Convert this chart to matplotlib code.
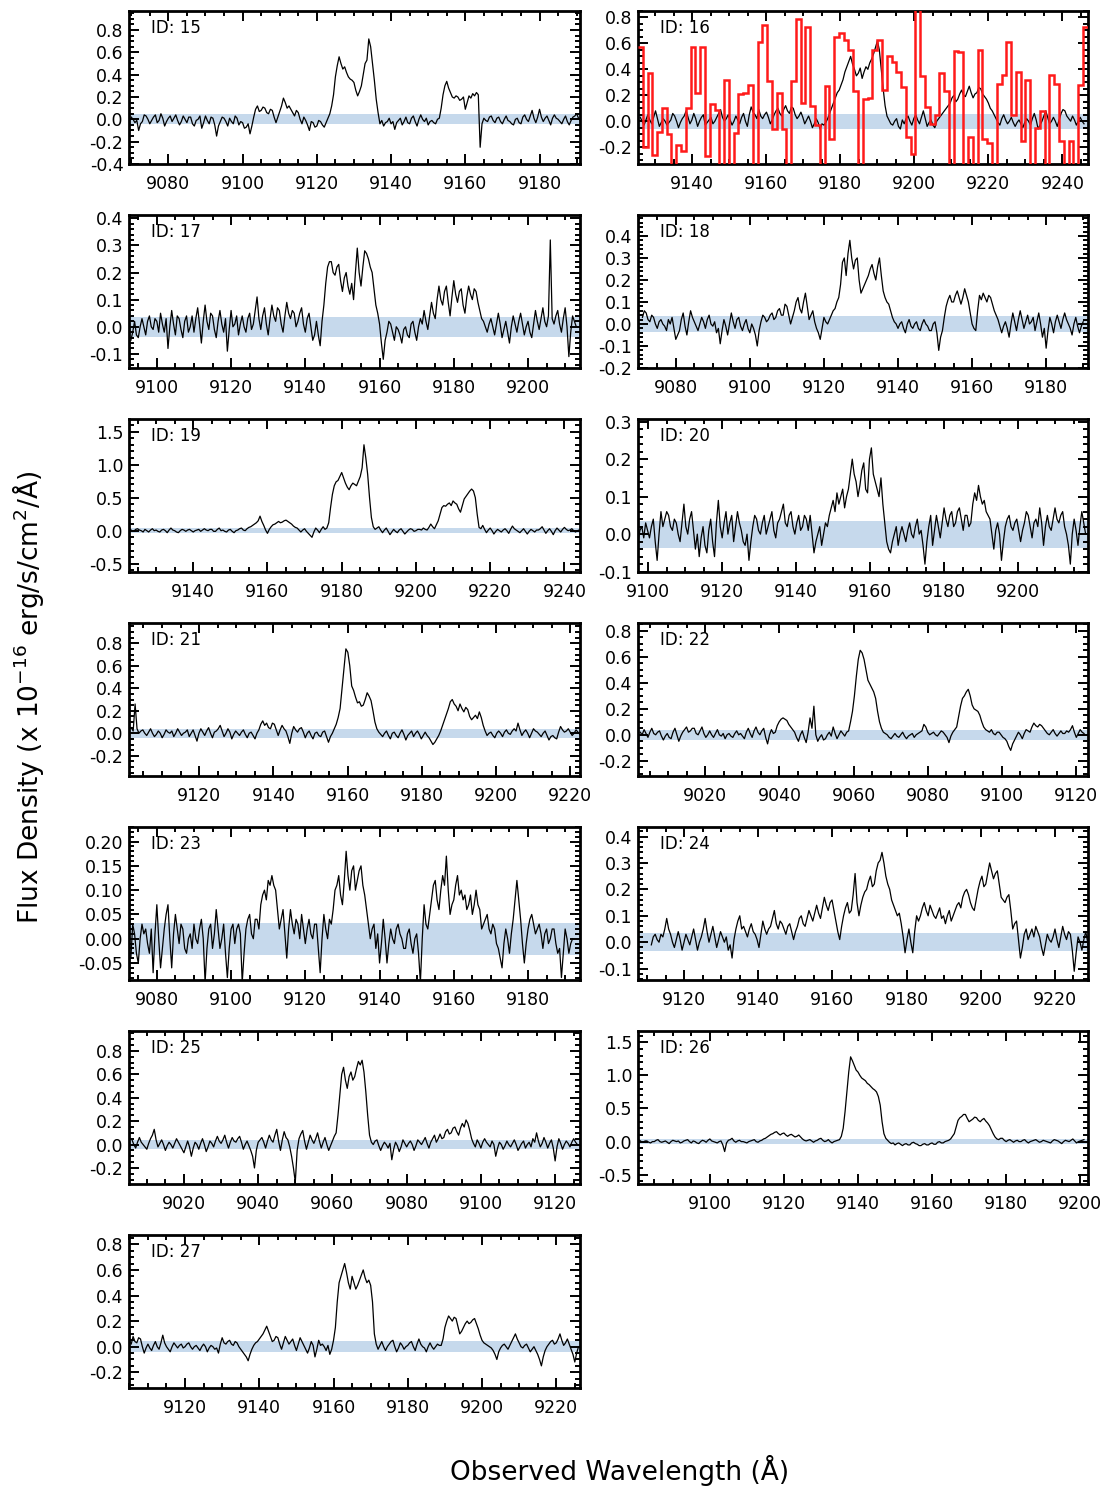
import numpy as np
import matplotlib
matplotlib.use("Agg")
import matplotlib.pyplot as plt
from matplotlib.ticker import MultipleLocator, FormatStrFormatter

plt.rcParams['font.family'] = ['DejaVu Sans']
plt.rcParams['axes.unicode_minus'] = False

# ---------------- data (flux density, 1e-16 erg/s/cm2/A) ----------------
panel_ids = [15, 16, 17, 18, 19, 20, 21, 22, 23, 24, 25, 26, 27]

# first wavelength (A) and sampling step (A) of each black spectrum
wave_start = {15: 9070, 16: 9126.0, 17: 9093, 18: 9071, 19: 9123, 20: 9097.3, 21: 9101.7,
              22: 9002.4, 23: 9073, 24: 9111.1, 25: 9006, 26: 9081, 27: 9105}
wave_step = {15: 0.5, 16: 0.5165, 17: 0.5, 18: 0.5, 19: 0.5, 20: 0.5165, 21: 0.521,
             22: 0.521, 23: 0.5, 24: 0.519, 25: 0.5, 26: 0.5, 27: 0.5}

flux_15 = [0.02, 0.00, -0.03, -0.01, -0.10, -0.04, -0.02, 0.04, 0.03, 0.00, -0.04, -0.01, 0.02, 0.04, -0.03, -0.01, 0.05, 0.01, -0.06, -0.02,
           0.01, 0.03, -0.02, 0.01, 0.04, -0.01, -0.05, -0.02, 0.03, 0.00, -0.03, 0.02, 0.02, -0.04, -0.06, -0.01, 0.00, 0.03, -0.08, -0.03,
           0.03, -0.01, -0.04, 0.02, 0.01, -0.05, -0.15, -0.06, -0.02, 0.02, 0.01, -0.02, -0.06, 0.01, -0.02, -0.04, 0.03, 0.01, -0.05, -0.02,
           -0.03, -0.08, -0.07, -0.04, -0.13, -0.06, 0.02, 0.09, 0.12, 0.07, 0.08, 0.11, 0.10, 0.06, 0.05, 0.09, 0.08, 0.02, -0.03, 0.02,
           0.07, 0.12, 0.19, 0.15, 0.10, 0.12, 0.09, 0.06, 0.03, 0.08, 0.06, 0.00, -0.04, 0.02, -0.01, -0.05, -0.10, -0.02, -0.03, -0.07,
           -0.06, -0.01, -0.02, -0.05, -0.07, -0.03, 0.01, 0.05, 0.12, 0.22, 0.38, 0.48, 0.56, 0.50, 0.45, 0.47, 0.42, 0.38, 0.36, 0.35,
           0.33, 0.26, 0.21, 0.25, 0.30, 0.40, 0.50, 0.53, 0.72, 0.65, 0.50, 0.35, 0.18, 0.06, -0.04, -0.01, -0.06, -0.03, -0.02, 0.01,
           -0.04, -0.02, -0.09, -0.03, -0.01, 0.01, -0.05, -0.02, 0.02, -0.03, -0.04, 0.01, 0.03, -0.02, -0.06, 0.00, 0.04, 0.00, -0.02, 0.01,
           -0.05, -0.02, -0.01, -0.03, -0.04, 0.00, 0.01, 0.10, 0.22, 0.30, 0.34, 0.28, 0.24, 0.20, 0.19, 0.21, 0.20, 0.17, 0.18, 0.20,
           0.09, 0.15, 0.21, 0.19, 0.23, 0.21, 0.24, 0.22, -0.25, -0.04,
           0.01, -0.01, -0.02, 0.02, 0.03, -0.01, -0.03, 0.01, 0.02, -0.02,
           -0.04, 0.00, 0.03, -0.01, -0.02, -0.04, -0.05, 0.00, 0.01, -0.03,
           -0.04, 0.02, 0.04, 0.00, -0.02, 0.03, 0.08, 0.01, -0.03, 0.02,
           0.09, 0.02, -0.02, 0.01, 0.03, -0.01, -0.05, 0.01, 0.04, 0.01,
           0.00, -0.02, -0.04, 0.00, 0.03, -0.02, -0.05, -0.01, 0.02, 0.03,
           0.05, 0.01, -0.01]

flux_16 = [0.03, 0.00, -0.03, 0.01, 0.05, 0.01, -0.02, 0.03, 0.08, 0.02, -0.04, -0.01, 0.02, 0.00, -0.03, -0.01, 0.01, 0.06, 0.04, 0.00,
           -0.05, -0.01, 0.02, 0.04, 0.08, 0.03, -0.02, 0.01, 0.06, 0.02, -0.04, 0.00, 0.03, 0.05, -0.03, -0.01, 0.01, 0.03, -0.02, 0.00,
           0.03, 0.06, 0.09, 0.03, 0.00, 0.02, 0.05, 0.01, -0.03, 0.00, 0.04, 0.01, -0.02, 0.03, 0.06, 0.00, -0.04, 0.05, 0.11, 0.07,
           0.05, 0.02, 0.09, 0.04, 0.02, 0.05, 0.07, 0.03, -0.02, 0.01, 0.05, 0.08, 0.10, 0.06, 0.04, 0.09, 0.12, 0.08, 0.06, 0.11,
           0.10, 0.05, 0.02, 0.04, 0.07, 0.03, -0.02, 0.01, 0.04, 0.00, -0.05, -0.02, 0.02, -0.01, -0.06, -0.02, -0.03, -0.01, 0.02, 0.06,
           0.10, 0.14, 0.18, 0.22, 0.24, 0.28, 0.32, 0.38, 0.42, 0.46, 0.50, 0.44, 0.40, 0.35, 0.37, 0.41, 0.33, 0.38, 0.42, 0.40,
           0.45, 0.48, 0.52, 0.57, 0.62, 0.55, 0.40, 0.25, 0.12, 0.04, 0.01, -0.02, -0.03, 0.00, 0.02, -0.04, -0.06, 0.01, -0.02, 0.02,
           0.04, 0.00, -0.03, 0.02, 0.05, 0.01, -0.02, 0.03, 0.08, 0.02, -0.04, -0.01, 0.01, -0.03, -0.05, 0.00, 0.02, 0.04, 0.06, 0.08,
           0.10, 0.12, 0.14, 0.18, 0.20, 0.15, 0.17, 0.21, 0.24, 0.20, 0.19, 0.23, 0.27, 0.22, 0.18, 0.21, 0.22, 0.26, 0.25, 0.21,
           0.19, 0.17, 0.14, 0.10, 0.08, 0.05, 0.02, -0.01, -0.03, 0.02, 0.05, 0.01, -0.02, 0.00, 0.03, -0.01, -0.04, -0.01, 0.01, -0.02,
           -0.05, -0.01, 0.02, 0.00, -0.03, 0.02, 0.06, 0.01, -0.06, -0.03, 0.00, 0.04, 0.08, 0.03, -0.02, 0.00, 0.03, 0.00, -0.04, 0.01,
           0.06, 0.09, 0.08, 0.04, 0.02, 0.00, 0.04, 0.01, -0.03, 0.00, 0.03, 0.00, -0.02]

# coarse spectrum shown as red histogram in panel 16
red_start_16 = 9125.4
red_step_16 = 1.2915
red_flux_16 = [0.57, -0.20, 0.37, -0.26, -0.08, 0.10, -0.10, -0.45, -0.18, -0.23,
               0.10, 0.57, 0.22, 0.57, -0.27, 0.13, 0.09, -0.45, 0.32, -0.45,
               -0.09, 0.21, 0.22, 0.28, -0.45, 0.61, 0.74, 0.31, -0.06, 0.22,
               -0.06, -0.45, 0.31, 0.79, 0.14, 0.73, 0.12, -0.03, -0.45, 0.27,
               -0.14, 0.65, 0.68, 0.63, 0.55, 0.23, -0.45, 0.17, 0.18, 0.55,
               0.63, 0.24, 0.50, 0.46, 0.38, 0.26, -0.12, -0.25, 1.00, 0.35,
               0.11, -0.02, 0.05, 0.37, 0.23, -0.45, 0.54, 0.53, -0.45, -0.12,
               -0.45, 0.55, -0.14, -0.17, -0.45, 0.29, 0.36, 0.61, 0.05, 0.38,
               -0.15, 0.32, -0.45, -0.05, 0.08, -0.45, 0.36, 0.29, -0.15, -0.45,
               -0.15, -0.45, 0.28, 0.73]

flux_17 = [-0.05, -0.02, 0.02, -0.03, -0.04, 0.00, 0.03, 0.00, -0.03, 0.02, 0.04, 0.00, -0.01, 0.03, 0.02, -0.02, 0.05, 0.01, -0.02, 0.03,
           -0.08, 0.00, 0.06, 0.01, -0.03, 0.04, 0.03, -0.01, -0.04, 0.02, 0.04, -0.02, 0.00, 0.04, -0.02, 0.03, 0.07, 0.01, -0.06, 0.02,
           0.08, 0.02, -0.01, 0.05, 0.04, -0.01, -0.04, 0.02, 0.06, 0.01, -0.02, 0.03, -0.09, -0.01, 0.06, 0.00, 0.01, 0.04, -0.03, 0.01,
           0.04, 0.00, -0.02, 0.03, 0.05, -0.01, 0.01, 0.06, 0.11, 0.03, -0.01, 0.04, 0.07, 0.01, -0.03, 0.03, 0.08, 0.04, 0.02, 0.07,
           0.06, 0.01, -0.02, 0.04, 0.09, 0.05, 0.03, 0.06, 0.05, 0.00, 0.02, 0.05, 0.07, 0.01, -0.02, 0.03, 0.05, 0.00, -0.05, -0.03,
           0.02, -0.03, -0.07, 0.02, 0.08, 0.16, 0.22, 0.24, 0.24, 0.20, 0.19, 0.22, 0.23, 0.17, 0.13, 0.18, 0.20, 0.15, 0.12, 0.16,
           0.10, 0.20, 0.29, 0.20, 0.15, 0.22, 0.28, 0.27, 0.25, 0.22, 0.20, 0.14, 0.08, 0.05, 0.01, -0.06, -0.12, -0.05, -0.02, 0.02,
           0.01, -0.02, -0.05, 0.00, -0.01, -0.03, -0.06, -0.01, 0.00, -0.03, -0.04, 0.01, 0.02, -0.02, -0.05, 0.00, 0.03, 0.01, 0.06, 0.02,
           -0.01, 0.04, 0.09, 0.05, 0.03, 0.10, 0.15, 0.10, 0.08, 0.13, 0.15, 0.09, 0.04, 0.11, 0.17, 0.12, 0.09, 0.13, 0.14, 0.08,
           0.05, 0.11, 0.15, 0.12, 0.10, 0.14, 0.13, 0.09, 0.06, 0.03, 0.02, 0.00, -0.02, 0.01, 0.03, 0.00, -0.03, 0.01, 0.05, 0.01,
           -0.04, -0.01, 0.02, -0.02, -0.06, 0.00, 0.04, 0.01, -0.02, 0.02, 0.05, 0.01, -0.03, 0.00, 0.02, -0.02, -0.04, 0.01, 0.06, 0.02,
           -0.01, 0.03, 0.07, 0.02, 0.00, 0.04, 0.32, 0.03, 0.01, 0.04, 0.06, 0.01, -0.02, 0.03, 0.07, 0.00, -0.11, -0.02, 0.04, 0.02,
           0.00]

flux_18 = [0.03, 0.06, 0.05, 0.02, 0.01, 0.04, 0.03, 0.00, -0.02, 0.01, 0.02, 0.00, -0.01, -0.03, 0.02, 0.00, 0.03, -0.02, -0.07, -0.05,
           -0.03, 0.02, 0.05, -0.01, -0.05, 0.01, 0.06, 0.03, 0.01, -0.01, -0.03, 0.00, 0.03, 0.01, -0.02, 0.02, 0.04, 0.00, -0.01, 0.01,
           -0.04, -0.02, -0.09, -0.03, 0.02, -0.01, -0.05, 0.00, 0.05, 0.01, -0.02, 0.02, 0.03, -0.01, -0.03, 0.00, 0.02, -0.02, -0.04, 0.00,
           -0.02, -0.05, -0.10, -0.03, 0.01, 0.04, 0.03, 0.01, 0.02, 0.04, 0.05, 0.02, 0.03, 0.06, 0.07, 0.04, 0.04, 0.09, 0.08, 0.04,
           0.00, 0.03, 0.06, 0.10, 0.12, 0.07, 0.05, 0.10, 0.14, 0.08, 0.02, 0.04, 0.06, 0.01, -0.02, -0.04, -0.07, -0.02, 0.03, 0.01,
           0.00, 0.02, 0.04, 0.06, 0.07, 0.10, 0.12, 0.18, 0.28, 0.30, 0.22, 0.32, 0.38, 0.30, 0.25, 0.29, 0.30, 0.20, 0.14, 0.16,
           0.18, 0.20, 0.22, 0.25, 0.27, 0.23, 0.20, 0.26, 0.30, 0.22, 0.15, 0.12, 0.10, 0.09, 0.06, 0.03, 0.01, 0.00, -0.02, 0.00,
           0.01, -0.02, -0.04, 0.00, 0.02, -0.01, -0.02, 0.00, 0.01, -0.02, -0.03, 0.00, 0.02, 0.00, -0.01, -0.03, -0.03, 0.00, 0.01, -0.04,
           -0.12, -0.06, -0.03, 0.03, 0.08, 0.11, 0.13, 0.10, 0.10, 0.13, 0.15, 0.12, 0.09, 0.12, 0.16, 0.13, 0.10, 0.05, 0.00, -0.02,
           -0.03, 0.06, 0.13, 0.11, 0.14, 0.12, 0.10, 0.13, 0.12, 0.09, 0.06, 0.04, 0.02, -0.01, -0.04, -0.01, 0.01, -0.02, -0.06, 0.00,
           0.05, 0.01, -0.03, 0.02, 0.06, 0.02, -0.02, 0.01, 0.04, 0.00, 0.01, 0.03, -0.03, 0.01, 0.05, 0.00, -0.06, -0.02, -0.11, -0.03,
           0.03, 0.00, -0.04, 0.01, 0.04, 0.01, -0.02, 0.02, 0.05, 0.02, 0.00, -0.02, -0.05, 0.00, 0.03, -0.01, -0.04, -0.01, 0.01]

flux_19 = [0.02, 0.00, -0.01, 0.02, 0.03, 0.01, 0.00, -0.02, 0.02, 0.00, -0.02, 0.01, 0.03, 0.00, 0.01, -0.01, -0.02, 0.01, 0.02, 0.00,
           -0.03, 0.01, 0.04, 0.01, 0.00, -0.02, -0.03, 0.00, 0.02, 0.01, -0.01, 0.01, 0.02, 0.00, -0.02, 0.00, 0.01, 0.02, -0.01, 0.01,
           0.03, 0.01, 0.00, 0.02, 0.02, -0.01, -0.01, 0.02, 0.04, 0.00, 0.01, -0.01, -0.02, 0.01, 0.02, -0.01, -0.03, 0.00, 0.01, 0.03,
           0.04, 0.01, 0.00, 0.03, 0.05, 0.06, 0.08, 0.10, 0.12, 0.15, 0.22, 0.14, 0.08, 0.01, -0.04, 0.02, 0.06, 0.09, 0.10, 0.12,
           0.14, 0.12, 0.13, 0.15, 0.16, 0.14, 0.12, 0.10, 0.07, 0.05, 0.04, 0.01, -0.02, 0.01, 0.03, -0.01, -0.04, -0.07, -0.10, -0.02,
           0.04, 0.01, -0.03, 0.02, 0.06, 0.02, 0.04, 0.12, 0.35, 0.55, 0.68, 0.74, 0.76, 0.82, 0.88, 0.80, 0.72, 0.66, 0.62, 0.68,
           0.72, 0.70, 0.68, 0.75, 0.82, 0.95, 1.30, 1.10, 0.85, 0.50, 0.20, 0.06, 0.02, 0.04, 0.06, 0.01, -0.03, 0.01, 0.04, -0.01,
           -0.06, -0.02, 0.02, -0.01, -0.03, 0.01, 0.03, -0.01, -0.05, -0.02, 0.01, 0.03, 0.02, -0.01, 0.00, 0.02, 0.02, 0.01, 0.04, 0.02,
           0.01, 0.05, 0.10, 0.06, 0.03, 0.09, 0.15, 0.25, 0.35, 0.38, 0.37, 0.40, 0.42, 0.38, 0.45, 0.42, 0.40, 0.33, 0.28, 0.38,
           0.48, 0.52, 0.56, 0.60, 0.63, 0.60, 0.50, 0.25, 0.05, 0.03, 0.08, 0.02, -0.03, 0.01, 0.04, 0.00, -0.05, -0.01, 0.02, 0.00,
           -0.02, 0.01, 0.03, 0.00, -0.04, 0.02, 0.07, 0.03, 0.01, -0.01, -0.03, 0.00, 0.03, -0.01, -0.05, -0.01, 0.02, 0.00, -0.02, 0.01,
           0.01, 0.03, 0.06, 0.01, -0.04, 0.00, 0.03, -0.01, -0.06, 0.00, 0.04, 0.01, -0.02, 0.02, 0.05, 0.02, 0.00, 0.01, 0.03, 0.00,
           -0.02, 0.00, 0.01]

flux_20 = [-0.02, 0.01, 0.02, -0.01, 0.03, 0.01, -0.01, 0.02, 0.04, -0.02, -0.07, 0.00, 0.06, 0.02, 0.04, 0.06, 0.05, 0.02, 0.01, 0.04,
           0.03, 0.00, -0.02, 0.03, 0.08, 0.02, 0.00, 0.04, 0.06, 0.01, -0.04, 0.00, -0.06, -0.01, 0.02, -0.03, -0.05, 0.01, 0.04, -0.02,
           -0.06, 0.03, 0.09, 0.02, -0.01, 0.03, 0.06, 0.00, 0.03, 0.05, -0.02, 0.02, 0.06, 0.03, 0.01, -0.02, -0.03, 0.00, -0.07, -0.02,
           0.02, 0.05, 0.04, 0.01, 0.00, 0.03, 0.05, 0.00, 0.02, 0.04, 0.06, 0.01, -0.01, 0.03, 0.04, 0.06, 0.08, 0.03, 0.02, 0.05,
           0.06, 0.02, 0.00, 0.03, 0.05, 0.01, 0.02, 0.05, 0.04, 0.01, 0.05, 0.00, -0.05, -0.02, 0.00, 0.02, -0.03, 0.00, 0.03, 0.02,
           0.05, 0.07, 0.09, 0.06, 0.11, 0.08, 0.10, 0.12, 0.07, 0.10, 0.12, 0.16, 0.20, 0.16, 0.14, 0.10, 0.13, 0.17, 0.19, 0.12,
           0.11, 0.20, 0.23, 0.16, 0.14, 0.12, 0.10, 0.15, 0.08, 0.03, -0.02, -0.04, -0.05, -0.02, 0.00, 0.02, -0.03, 0.00, 0.02, 0.00,
           -0.02, 0.01, 0.03, 0.00, -0.01, 0.02, 0.04, 0.00, 0.01, -0.03, -0.08, -0.02, 0.02, 0.05, -0.03, 0.01, 0.05, 0.02, -0.01, 0.03,
           0.07, 0.04, 0.02, 0.05, 0.06, 0.02, 0.03, 0.06, 0.07, 0.04, 0.01, 0.05, 0.05, 0.02, 0.03, 0.08, 0.11, 0.09, 0.13, 0.10,
           0.08, 0.09, 0.06, 0.05, 0.04, 0.00, -0.04, 0.01, 0.03, 0.00, -0.07, -0.02, 0.02, 0.04, 0.05, 0.02, 0.01, 0.03, 0.04, 0.01,
           -0.02, 0.01, 0.03, 0.06, 0.05, 0.02, -0.01, 0.03, 0.04, 0.02, 0.07, 0.03, -0.03, 0.02, 0.05, 0.02, 0.01, 0.04, 0.07, 0.04,
           0.03, 0.05, 0.06, 0.02, 0.00, -0.03, -0.08, 0.00, 0.04, 0.01, -0.03, 0.02, 0.06, 0.03, 0.00]

flux_21 = [0.05, 0.02, 0.26, 0.04, 0.00, 0.02, 0.03, 0.00, -0.02, 0.01, 0.04, 0.00, -0.03, -0.01, 0.02, 0.00, -0.04, -0.01, 0.03, 0.01,
           0.00, 0.02, -0.03, 0.00, 0.04, 0.01, -0.02, 0.00, 0.01, 0.03, -0.03, 0.00, 0.03, -0.02, -0.07, 0.00, 0.04, 0.01, -0.02, 0.02,
           0.05, 0.00, -0.04, 0.01, 0.02, 0.04, 0.07, 0.02, -0.03, 0.00, 0.04, 0.01, -0.05, -0.01, 0.02, 0.00, -0.02, 0.01, 0.03, -0.01,
           -0.04, 0.00, 0.01, -0.02, -0.05, 0.00, 0.03, 0.08, 0.11, 0.07, 0.09, 0.05, 0.04, 0.09, 0.08, 0.03, -0.02, 0.03, 0.07, 0.04,
           0.02, -0.03, -0.09, 0.00, 0.06, 0.03, 0.01, 0.04, 0.05, 0.01, -0.04, 0.00, 0.02, -0.02, -0.05, 0.00, 0.01, -0.02, -0.03, 0.01,
           0.02, -0.03, -0.08, -0.03, 0.00, 0.04, 0.08, 0.14, 0.22, 0.40, 0.58, 0.75, 0.72, 0.60, 0.42, 0.38, 0.32, 0.27, 0.28, 0.24,
           0.25, 0.30, 0.36, 0.33, 0.29, 0.20, 0.10, 0.04, 0.01, -0.01, -0.03, 0.00, 0.02, -0.02, -0.05, 0.00, 0.01, -0.02, -0.04, 0.00,
           0.03, -0.01, -0.06, -0.02, 0.00, 0.02, -0.03, 0.00, 0.02, -0.01, -0.05, -0.02, 0.01, -0.02, -0.04, -0.07, -0.10, -0.08, -0.05, -0.02,
           0.02, 0.07, 0.12, 0.17, 0.22, 0.28, 0.30, 0.26, 0.24, 0.20, 0.26, 0.22, 0.19, 0.23, 0.21, 0.15, 0.12, 0.14, 0.16, 0.13,
           0.19, 0.14, 0.07, 0.02, -0.02, 0.00, 0.01, -0.02, -0.04, 0.00, 0.02, 0.00, -0.03, 0.01, 0.03, 0.00, -0.01, 0.02, 0.04, 0.02,
           0.09, 0.03, -0.02, 0.01, 0.03, 0.00, -0.04, 0.00, 0.04, 0.02, 0.01, -0.01, -0.03, 0.00, 0.02, -0.02, -0.06, -0.03, -0.02, -0.04,
           -0.05, 0.01, 0.06, 0.03, 0.01, 0.02, 0.04, 0.01, -0.02, 0.00, 0.03, 0.01, -0.01]

flux_22 = [0.02, 0.00, 0.04, 0.01, -0.02, 0.02, 0.05, 0.01, 0.00, 0.02, 0.03, -0.01, -0.04, -0.01, 0.01, -0.02, -0.03, 0.02, 0.05, 0.00,
           -0.05, -0.01, 0.02, 0.04, 0.06, 0.02, 0.03, 0.05, 0.05, 0.01, 0.00, 0.03, 0.06, 0.01, -0.02, 0.00, 0.03, 0.00, -0.02, 0.01,
           0.04, 0.00, -0.01, 0.01, -0.03, 0.00, 0.01, -0.01, -0.02, 0.01, 0.03, 0.00, 0.01, -0.01, -0.03, 0.02, 0.05, 0.01, -0.02, 0.03,
           0.06, 0.02, 0.00, 0.03, 0.05, -0.02, -0.07, 0.00, 0.04, 0.01, 0.02, 0.07, 0.10, 0.12, 0.13, 0.12, 0.11, 0.08, 0.06, 0.04,
           0.02, -0.02, -0.05, 0.00, 0.03, -0.02, -0.06, 0.02, 0.13, 0.05, 0.22, 0.00, -0.05, -0.02, 0.00, -0.04, -0.03, 0.00, 0.02, -0.01,
           0.06, 0.01, -0.03, 0.00, 0.03, 0.01, -0.01, 0.02, 0.03, 0.10, 0.18, 0.30, 0.45, 0.58, 0.65, 0.63, 0.58, 0.50, 0.42, 0.39,
           0.36, 0.33, 0.28, 0.18, 0.10, 0.05, 0.02, 0.01, 0.00, -0.02, -0.03, -0.01, 0.01, -0.01, -0.02, 0.00, 0.02, -0.01, -0.03, -0.01,
           0.00, 0.01, -0.02, 0.00, 0.01, 0.02, 0.03, 0.08, 0.06, 0.02, 0.00, 0.01, 0.02, 0.00, -0.01, 0.01, 0.03, 0.02, 0.00, -0.02,
           -0.06, -0.01, 0.02, 0.04, 0.06, 0.14, 0.22, 0.28, 0.30, 0.33, 0.35, 0.30, 0.23, 0.20, 0.19, 0.18, 0.15, 0.10, 0.06, 0.04,
           0.03, 0.02, 0.04, 0.01, 0.00, 0.02, 0.02, 0.00, -0.02, -0.03, -0.05, -0.09, -0.12, -0.07, -0.04, -0.01, 0.02, 0.00, -0.03, 0.01,
           0.04, 0.03, 0.02, 0.06, 0.09, 0.07, 0.06, 0.08, 0.07, 0.05, 0.03, 0.01, 0.00, 0.02, 0.04, 0.01, -0.01, 0.01, 0.03, 0.01,
           0.01, 0.03, 0.02, 0.04, 0.07, 0.02, -0.02, 0.01, 0.04, 0.02, 0.01]

flux_23 = [-0.04, 0.03, 0.01, -0.03, -0.05, 0.00, 0.03, 0.01, 0.02, -0.01, -0.03, 0.02, -0.07, 0.01, 0.07, 0.00, -0.06, -0.02, 0.02, 0.05,
           0.07, 0.00, -0.06, 0.01, 0.05, 0.02, -0.01, 0.03, 0.02, -0.02, -0.03, 0.00, 0.01, -0.02, 0.03, 0.00, -0.01, 0.02, 0.04, 0.00,
           -0.09, -0.02, 0.02, 0.03, -0.02, 0.01, 0.06, 0.02, -0.02, 0.00, 0.03, -0.03, -0.08, -0.02, 0.02, 0.03, -0.01, 0.02, 0.03, 0.01,
           -0.09, -0.03, 0.02, 0.04, 0.05, 0.01, 0.00, 0.04, 0.04, 0.02, 0.07, 0.09, 0.10, 0.08, 0.12, 0.11, 0.13, 0.11, 0.10, 0.06,
           0.02, 0.04, 0.06, 0.01, -0.04, 0.02, 0.06, 0.03, 0.01, 0.04, 0.03, 0.00, 0.05, 0.02, -0.01, 0.02, 0.04, 0.01, 0.00, 0.03,
           0.03, -0.02, -0.07, 0.00, 0.05, 0.02, 0.00, 0.04, 0.03, 0.06, 0.10, 0.11, 0.13, 0.09, 0.07, 0.12, 0.18, 0.13, 0.10, 0.14,
           0.15, 0.10, 0.12, 0.14, 0.15, 0.11, 0.09, 0.06, 0.03, 0.00, 0.02, 0.03, -0.02, 0.01, -0.05, -0.01, 0.04, 0.00, -0.05, -0.01,
           0.02, 0.00, -0.01, 0.02, 0.03, 0.01, 0.00, -0.02, -0.02, 0.01, 0.02, -0.01, -0.03, 0.00, 0.01, -0.03, -0.09, 0.00, 0.07, 0.03,
           0.02, 0.05, 0.08, 0.11, 0.12, 0.08, 0.06, 0.10, 0.13, 0.11, 0.17, 0.10, 0.05, 0.07, 0.08, 0.11, 0.13, 0.09, 0.10, 0.08,
           0.09, 0.06, 0.07, 0.09, 0.05, 0.07, 0.10, 0.07, 0.06, 0.02, 0.03, 0.04, 0.05, 0.02, 0.01, 0.03, 0.02, -0.01, -0.02, -0.04,
           -0.06, -0.01, 0.02, 0.00, -0.03, 0.01, 0.04, 0.08, 0.12, 0.08, 0.04, -0.01, -0.05, -0.01, 0.02, 0.04, 0.05, 0.03, 0.01, 0.02,
           0.03, 0.01, -0.02, 0.01, 0.02, -0.01, 0.00, 0.02, 0.02, -0.01, -0.03, -0.02, -0.08, -0.03, 0.02, 0.00, -0.03, -0.01, 0.00]

flux_24 = [-0.01, 0.02, 0.03, 0.01, 0.00, 0.03, 0.02, 0.05, 0.09, 0.05, 0.03, 0.00, -0.02, 0.01, 0.04, 0.01, -0.03, 0.00, 0.03, 0.01,
           -0.01, 0.02, 0.05, 0.01, -0.03, 0.00, 0.02, 0.05, 0.09, 0.04, 0.00, 0.03, 0.06, 0.02, -0.02, 0.01, 0.04, 0.02, 0.00, 0.02,
           -0.03, -0.01, -0.06, 0.01, 0.05, 0.08, 0.10, 0.05, 0.06, 0.04, 0.02, 0.05, 0.07, 0.04, 0.03, 0.01, -0.02, 0.03, 0.08, 0.05,
           0.03, 0.05, 0.06, 0.09, 0.12, 0.07, 0.05, 0.08, 0.07, 0.05, 0.03, 0.06, 0.07, 0.04, 0.01, 0.04, 0.06, 0.09, 0.10, 0.07,
           0.06, 0.09, 0.12, 0.10, 0.08, 0.11, 0.14, 0.11, 0.09, 0.13, 0.17, 0.14, 0.12, 0.15, 0.16, 0.12, 0.08, 0.04, 0.01, 0.06,
           0.10, 0.13, 0.15, 0.11, 0.12, 0.18, 0.26, 0.15, 0.10, 0.14, 0.17, 0.19, 0.20, 0.23, 0.25, 0.21, 0.22, 0.27, 0.30, 0.31,
           0.34, 0.30, 0.25, 0.22, 0.20, 0.16, 0.14, 0.12, 0.10, 0.11, 0.07, 0.02, -0.04, 0.01, 0.05, 0.00, -0.04, 0.04, 0.10, 0.08,
           0.10, 0.13, 0.15, 0.12, 0.10, 0.14, 0.12, 0.10, 0.09, 0.11, 0.13, 0.09, 0.10, 0.07, 0.10, 0.12, 0.08, 0.10, 0.12, 0.14,
           0.15, 0.13, 0.17, 0.19, 0.20, 0.18, 0.15, 0.13, 0.12, 0.16, 0.20, 0.23, 0.25, 0.21, 0.22, 0.26, 0.30, 0.27, 0.24, 0.26,
           0.27, 0.22, 0.17, 0.16, 0.15, 0.17, 0.18, 0.12, 0.05, 0.07, 0.08, 0.01, -0.06, -0.02, 0.03, 0.05, 0.01, 0.03, 0.05, 0.02,
           0.06, 0.04, 0.02, -0.02, -0.05, -0.01, 0.03, 0.01, 0.00, 0.02, 0.05, 0.01, -0.02, 0.02, 0.06, 0.03, 0.01, 0.04, 0.03, -0.03,
           -0.11, -0.04, 0.02, 0.00, -0.03, 0.01, 0.04, 0.00, -0.06, -0.02, 0.01, -0.01, -0.04]

flux_25 = [0.04, 0.00, -0.03, 0.02, 0.06, 0.02, 0.00, -0.02, -0.04, 0.01, 0.05, 0.08, 0.13, 0.04, -0.02, 0.01, 0.04, 0.00, -0.05, -0.01,
           0.02, 0.00, -0.03, 0.01, 0.05, 0.02, -0.01, -0.04, -0.07, -0.02, 0.03, -0.02, -0.10, -0.03, 0.02, 0.00, -0.04, 0.01, 0.05, 0.00,
           -0.06, -0.02, 0.03, 0.01, -0.02, 0.03, 0.07, 0.03, 0.01, 0.04, 0.08, 0.02, -0.03, 0.02, 0.06, 0.03, 0.02, 0.05, 0.07, 0.02,
           -0.04, 0.00, 0.03, -0.01, -0.05, -0.10, -0.20, -0.05, 0.02, 0.04, 0.06, 0.02, -0.03, 0.03, 0.08, 0.04, 0.02, 0.08, 0.13, 0.03,
           -0.05, 0.04, 0.11, 0.06, 0.04, -0.02, -0.10, -0.20, -0.32, -0.05, 0.05, 0.09, 0.12, 0.03, -0.04, 0.02, 0.08, 0.04, 0.01, 0.05,
           0.10, 0.03, -0.03, 0.02, 0.06, 0.00, -0.05, -0.01, 0.03, 0.07, 0.10, 0.25, 0.42, 0.60, 0.66, 0.55, 0.48, 0.58, 0.62, 0.55,
           0.58, 0.65, 0.71, 0.68, 0.72, 0.62, 0.45, 0.25, 0.08, 0.02, 0.00, 0.03, 0.04, -0.01, -0.05, -0.01, 0.02, 0.00, -0.03, 0.01,
           -0.13, -0.04, 0.02, -0.01, -0.06, -0.02, 0.04, 0.01, -0.02, 0.01, 0.03, 0.00, -0.05, -0.01, 0.04, 0.02, 0.00, 0.03, 0.06, 0.01,
           -0.03, 0.02, 0.05, 0.08, 0.02, 0.05, 0.09, 0.05, 0.06, 0.11, 0.13, 0.09, 0.10, 0.14, 0.15, 0.11, 0.08, 0.14, 0.18, 0.15,
           0.21, 0.18, 0.12, 0.05, 0.01, -0.02, 0.04, 0.01, -0.03, 0.02, 0.05, 0.02, 0.00, -0.02, 0.03, 0.00, -0.10, -0.03, 0.02, 0.00,
           -0.04, -0.01, 0.03, 0.00, -0.02, 0.01, 0.04, 0.00, -0.05, -0.02, 0.01, 0.03, -0.03, 0.00, 0.02, -0.02, 0.05, 0.02, 0.10, 0.03,
           -0.02, 0.01, 0.06, 0.02, -0.03, 0.01, 0.04, -0.03, -0.14, -0.02, 0.05, 0.01, -0.04, 0.00, 0.03, 0.01, -0.02, 0.02, 0.05, 0.02,
           0.00]

flux_26 = [0.02, 0.00, -0.01, 0.01, 0.01, -0.01, -0.02, 0.00, 0.00, 0.02, 0.03, 0.00, -0.01, 0.00, 0.01, -0.01, -0.03, 0.00, 0.02, 0.01,
           0.00, 0.01, -0.02, -0.01, 0.01, 0.02, 0.03, 0.00, -0.02, 0.01, 0.00, -0.02, -0.03, 0.00, 0.02, 0.01, -0.01, 0.02, 0.04, 0.01,
           0.00, -0.01, -0.02, 0.00, 0.01, -0.05, -0.15, -0.02, 0.02, 0.03, 0.05, 0.01, -0.01, 0.01, 0.02, 0.00, 0.00, -0.01, -0.02, 0.00,
           0.01, 0.02, 0.03, 0.00, -0.01, 0.01, 0.02, 0.04, 0.05, 0.07, 0.09, 0.11, 0.12, 0.14, 0.15, 0.12, 0.10, 0.12, 0.13, 0.10,
           0.08, 0.10, 0.11, 0.09, 0.07, 0.08, 0.10, 0.07, 0.04, 0.02, 0.01, 0.02, 0.03, 0.01, -0.01, 0.01, 0.02, 0.04, 0.05, 0.02,
           0.00, 0.01, 0.03, 0.00, -0.02, 0.00, 0.01, 0.02, 0.03, 0.08, 0.20, 0.45, 0.75, 1.05, 1.28, 1.22, 1.15, 1.08, 1.05, 1.00,
           0.96, 0.94, 0.92, 0.88, 0.86, 0.83, 0.80, 0.78, 0.75, 0.68, 0.55, 0.30, 0.12, 0.05, 0.02, -0.01, -0.03, -0.02, -0.05, -0.03,
           -0.02, -0.04, -0.06, -0.04, -0.03, -0.05, -0.05, -0.02, -0.01, -0.03, -0.04, -0.06, -0.06, -0.04, -0.03, -0.05, -0.05, -0.03, -0.02, -0.04,
           -0.04, -0.01, 0.00, -0.02, -0.02, 0.00, 0.01, 0.02, 0.04, 0.08, 0.12, 0.22, 0.32, 0.36, 0.38, 0.41, 0.41, 0.35, 0.30, 0.32,
           0.34, 0.37, 0.36, 0.32, 0.30, 0.33, 0.35, 0.31, 0.28, 0.24, 0.18, 0.12, 0.07, 0.04, 0.03, 0.05, 0.05, 0.02, 0.00, 0.02,
           0.03, 0.01, -0.01, 0.01, 0.02, 0.00, 0.00, 0.02, 0.03, 0.00, -0.02, 0.00, 0.01, 0.02, 0.03, 0.01, -0.01, 0.00, 0.02, 0.01,
           0.00, -0.01, -0.02, 0.01, 0.03, 0.02, 0.01, -0.01, -0.03, 0.00, 0.02, 0.01, 0.00, 0.02, 0.04, 0.01, -0.02, 0.00, 0.01, 0.02,
           0.03]

flux_27 = [0.05, 0.02, 0.08, 0.04, 0.03, 0.07, 0.06, 0.00, -0.05, -0.01, 0.02, -0.01, -0.03, 0.01, 0.04, 0.00, -0.02, 0.03, 0.09, 0.03,
           0.00, -0.02, -0.04, 0.00, 0.03, 0.01, -0.01, 0.01, 0.02, -0.01, 0.00, 0.02, 0.03, 0.00, -0.02, 0.00, 0.01, -0.01, -0.03, 0.00,
           0.02, 0.00, -0.04, -0.01, 0.01, 0.00, -0.02, -0.01, -0.05, 0.02, 0.07, 0.03, 0.02, 0.04, 0.05, 0.02, 0.01, 0.04, 0.03, 0.00,
           -0.02, -0.04, -0.06, -0.08, -0.11, -0.06, -0.02, 0.01, 0.03, 0.04, 0.06, 0.08, 0.10, 0.13, 0.16, 0.12, 0.08, 0.04, 0.05, 0.08,
           0.07, 0.02, -0.02, 0.03, 0.08, 0.05, 0.02, 0.04, 0.06, 0.01, -0.03, 0.02, 0.07, 0.04, 0.01, -0.02, -0.05, -0.01, 0.04, 0.01,
           -0.08, -0.02, 0.05, 0.01, 0.02, 0.00, -0.03, 0.01, -0.06, -0.02, 0.05, 0.15, 0.35, 0.50, 0.55, 0.60, 0.65, 0.58, 0.50, 0.45,
           0.55, 0.50, 0.45, 0.48, 0.52, 0.56, 0.60, 0.54, 0.50, 0.52, 0.48, 0.35, 0.10, 0.02, -0.02, 0.01, 0.04, 0.00, -0.03, 0.00,
           0.02, 0.04, 0.05, 0.00, -0.04, -0.01, 0.03, 0.01, -0.02, 0.00, 0.01, 0.03, 0.04, 0.00, -0.03, 0.02, 0.06, 0.02, 0.00, -0.01,
           -0.04, 0.00, 0.03, 0.00, -0.02, 0.00, 0.02, 0.01, 0.01, 0.06, 0.15, 0.20, 0.24, 0.22, 0.20, 0.23, 0.22, 0.16, 0.10, 0.12,
           0.15, 0.18, 0.20, 0.18, 0.19, 0.21, 0.22, 0.18, 0.14, 0.09, 0.05, 0.03, 0.02, 0.01, 0.00, -0.01, -0.03, -0.06, -0.10, -0.04,
           -0.01, 0.01, 0.02, 0.00, -0.02, 0.01, 0.04, 0.07, 0.10, 0.06, 0.03, 0.00, -0.01, 0.01, 0.02, -0.01, -0.04, -0.02, 0.00, -0.03,
           -0.06, -0.10, -0.15, -0.08, -0.03, 0.00, 0.02, 0.04, 0.05, 0.02, 0.03, 0.06, 0.10, 0.05, 0.01, 0.03, 0.06, 0.02, -0.02, -0.06,
           -0.12, -0.05, 0.00]

flux = {15: flux_15, 16: flux_16, 17: flux_17, 18: flux_18, 19: flux_19, 20: flux_20,
        21: flux_21, 22: flux_22, 23: flux_23, 24: flux_24, 25: flux_25, 26: flux_26,
        27: flux_27}

# 1-sigma noise level (shaded band)
noise_sigma = {15: 0.045, 16: 0.057, 17: 0.037, 18: 0.035, 19: 0.038, 20: 0.036, 21: 0.04,
               22: 0.04, 23: 0.033, 24: 0.035, 25: 0.04, 26: 0.04, 27: 0.045}

# ---------------- axes configuration ----------------
xlims = {15: (9069.4, 9190.9), 16: (9125.4, 9246.9), 17: (9092.5, 9214.0),
         18: (9069.8, 9191.3), 19: (9122.7, 9244.2), 20: (9097.3, 9218.8),
         21: (9101.1, 9222.6), 22: (9001.8, 9123.3), 23: (9072.5, 9194.0),
         24: (9107.5, 9229.0), 25: (9005.2, 9126.7), 26: (9080.6, 9202.1),
         27: (9104.9, 9226.4)}
ylims = {15: (-0.40, 0.97), 16: (-0.33, 0.85), 17: (-0.152, 0.412), 18: (-0.2, 0.495),
         19: (-0.625, 1.69), 20: (-0.101, 0.307), 21: (-0.38, 0.98), 22: (-0.317, 0.86),
         23: (-0.085, 0.23), 24: (-0.143, 0.436), 25: (-0.337, 0.97), 26: (-0.64, 1.67),
         27: (-0.323, 0.873)}
ymajor = {15: 0.2, 16: 0.2, 17: 0.1, 18: 0.1, 19: 0.5, 20: 0.1, 21: 0.2, 22: 0.2,
          23: 0.05, 24: 0.1, 25: 0.2, 26: 0.5, 27: 0.2}

W, H = 1114, 1488
fig = plt.figure(figsize=(W / 100, H / 100), dpi=100)

col_x = [129, 638]
col_w = [451, 450]
row_top = [11, 215, 419, 623, 827, 1031, 1235]
ax_h = 153

band_color = '#c6d9ec'

for i, pid in enumerate(panel_ids):
    r, c = divmod(i, 2)
    x0, w = col_x[c], col_w[c]
    top = row_top[r]
    ax = fig.add_axes([x0 / W, 1 - (top + ax_h) / H, w / W, ax_h / H])

    sig = noise_sigma[pid]
    ax.axhspan(-sig, sig, color=band_color, lw=0, zorder=1)

    f = np.array(flux[pid])
    wv = wave_start[pid] + wave_step[pid] * np.arange(len(f))
    ax.plot(wv, f, color='black', lw=0.9, zorder=3)

    if pid == 16:
        rf = np.array(red_flux_16)
        edges = red_start_16 + red_step_16 * np.arange(len(rf) + 1)
        ax.stairs(rf, edges, baseline=None, color='#ff1a1a', lw=1.8, zorder=4)

    ax.set_xlim(*xlims[pid])
    ax.set_ylim(*ylims[pid])
    ax.xaxis.set_major_locator(MultipleLocator(20))
    ax.xaxis.set_minor_locator(MultipleLocator(5))
    ym = ymajor[pid]
    ax.yaxis.set_major_locator(MultipleLocator(ym))
    ax.yaxis.set_minor_locator(MultipleLocator(ym / (4 if abs(ym - 0.2) < 1e-9 else 5)))
    ax.yaxis.set_major_formatter(FormatStrFormatter('%.2f' if pid == 23 else '%.1f'))
    ax.xaxis.set_major_formatter(FormatStrFormatter('%d'))

    for sp in ax.spines.values():
        sp.set_linewidth(2.0)
    ax.tick_params(which='both', direction='in', top=True, right=True, width=1.4,
                   labelsize=12.5)
    ax.tick_params(which='major', length=7)
    ax.tick_params(which='minor', length=3.5)
    ax.tick_params(axis='x', which='major', pad=8)
    ax.tick_params(axis='y', which='major', pad=4)

    ax.text(0.049, 0.89, 'ID: %d' % pid, transform=ax.transAxes, fontsize=12,
            ha='left', va='center', zorder=5)

fig.text(28 / W, 1 - 697 / H, r'Flux Density (x 10$^{-16}$ erg/s/cm$^2$/Å)',
         rotation=90, ha='center', va='center', fontsize=19)
fig.text(620 / W, 1 - 1470 / H, 'Observed Wavelength (Å)', ha='center', va='center',
         fontsize=19)

fig.savefig('out.png', dpi=100)
